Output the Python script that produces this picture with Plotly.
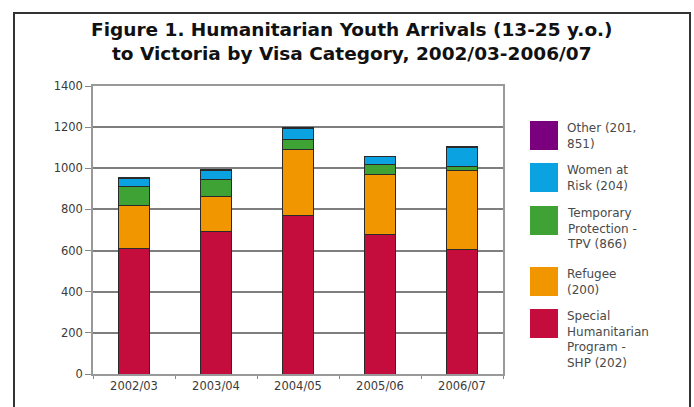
import plotly.graph_objects as go

# ---- data ----
years = ["2002/03", "2003/04", "2004/05", "2005/06", "2006/07"]
shp = [611, 695, 769, 680, 607]
refugee = [210, 170, 320, 292, 381]
tpv = [89, 81, 51, 44, 23]
women = [41, 45, 54, 40, 91]
other = [5, 4, 4, 3, 3]

series_names = [
    "Special<br>Humanitarian<br>Program -<br>SHP (202)",
    "Refugee<br>(200)",
    "Temporary<br>Protection -<br>TPV (866)",
    "Women at<br>Risk (204)",
    "Other (201,<br>851)",
]
series_values = [shp, refugee, tpv, women, other]
series_colors = ["#C40D3C", "#F29600", "#3EA235", "#0BA2E2", "#7A007E"]

y_ticks = [0, 200, 400, 600, 800, 1000, 1200, 1400]

# ---- layout geometry (pixels) ----
W, H = 694, 407
PL, PR, PT, PB = 93, 503, 86, 374


def px_x(x):
    return (x - PL) / (PR - PL)


def px_y(y):
    return (PB - y) / (PB - PT)


fig = go.Figure()
for name, vals, col in zip(series_names, series_values, series_colors):
    fig.add_trace(go.Bar(
        x=years, y=vals, name=name,
        marker=dict(color=col, line=dict(color="#2a2a2a", width=1)),
        width=0.39, showlegend=False,
    ))

shapes = []
annotations = []

# custom legend (large swatches), top item = last series
legend_tops = [309, 267, 206, 163, 121]
for name, col, top in zip(series_names, series_colors, legend_tops):
    shapes.append(dict(
        type="rect", xref="paper", yref="paper",
        x0=px_x(530), x1=px_x(558), y0=px_y(top + 29), y1=px_y(top),
        fillcolor=col, line=dict(width=0),
    ))
    annotations.append(dict(
        xref="paper", yref="paper", x=px_x(565), y=px_y(top - 2),
        xanchor="left", yanchor="top", align="left", showarrow=False,
        text=name, font=dict(family="DejaVu Sans", size=12, color="#4a4a4a"),
    ))

# outer frame
shapes.append(dict(
    type="rect", xref="paper", yref="paper",
    x0=px_x(14), x1=px_x(690), y0=px_y(420), y1=px_y(13),
    line=dict(color="#333333", width=2), fillcolor="rgba(0,0,0,0)",
    layer="above",
))

# title
annotations.append(dict(
    xref="paper", yref="paper", x=px_x(352), y=px_y(41),
    xanchor="center", yanchor="middle", showarrow=False, align="center",
    text="<b>Figure 1. Humanitarian Youth Arrivals (13-25 y.o.)<br>to Victoria by Visa Category, 2002/03-2006/07</b>",
    font=dict(family="DejaVu Sans", size=18.5, color="#111111"),
))

fig.update_layout(
    width=W, height=H, autosize=False,
    margin=dict(l=PL, r=W - PR, t=PT, b=H - PB),
    barmode="stack",
    paper_bgcolor="white", plot_bgcolor="white",
    shapes=shapes, annotations=annotations,
    showlegend=False,
)
fig.update_xaxes(
    type="category", showgrid=False,
    showline=True, linecolor="#999999", linewidth=1.5, mirror=True,
    ticks="outside", tickson="boundaries", ticklen=3, tickcolor="#888888",
    tickfont=dict(family="DejaVu Sans", size=11.5, color="#3a3a3a"),
)
fig.update_yaxes(
    range=[0, 1400], tickvals=y_ticks,
    showgrid=True, gridcolor="#7e7e7e", gridwidth=1.8,
    showline=True, linecolor="#999999", linewidth=1.5, mirror=True,
    ticks="outside", ticklen=6, tickcolor="#888888",
    tickfont=dict(family="DejaVu Sans", size=11.5, color="#3a3a3a"),
    zeroline=False,
)

fig.write_html("out.html")
